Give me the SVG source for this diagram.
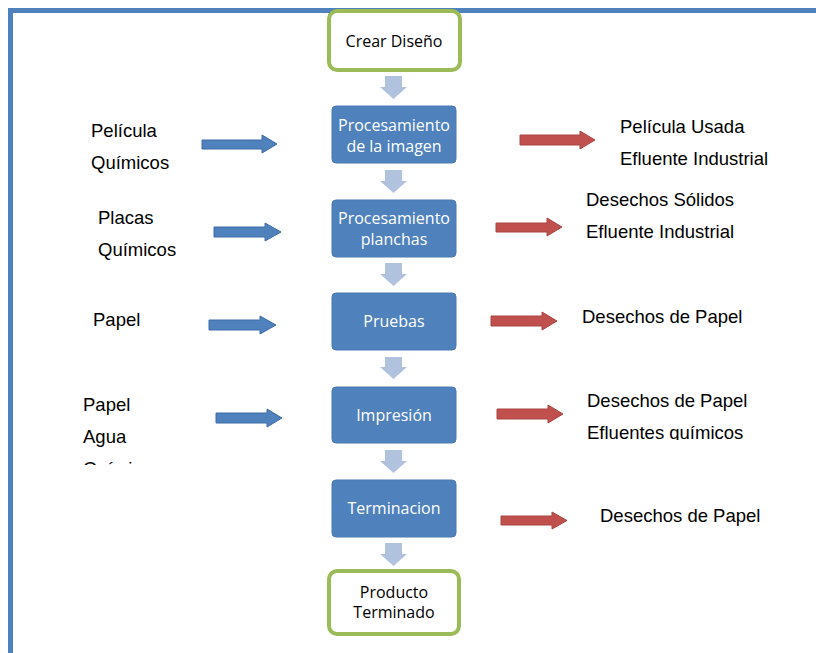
<svg xmlns="http://www.w3.org/2000/svg" width="816" height="653" viewBox="0 0 816 653">
<defs>
<style>
.frame{fill:none;stroke:#4f81bd;stroke-width:5}
.term{fill:#ffffff;stroke:#9bbb59;stroke-width:4}
.proc{fill:#4f81bd;stroke:#4a7ab3;stroke-width:1}
.down{fill:#b1c2de}
.inarr{fill:#4f81bd;stroke:#3d6ca6;stroke-width:1}
.outarr{fill:#c0504d;stroke:#a94541;stroke-width:1}
.nt{font-family:"Open Sans","Noto Sans",sans-serif;font-size:16px;text-anchor:middle}
.w{fill:#ffffff}
.k{fill:#000000}
.lbl{font-family:"Liberation Sans",Arial,sans-serif;font-size:18.5px;fill:#000000}
</style>
<clipPath id="clipL"><rect x="0" y="0" width="300" height="465"/></clipPath>
<clipPath id="clipR"><rect x="560" y="0" width="256" height="440"/></clipPath>
</defs>
<rect x="0" y="0" width="816" height="653" fill="#ffffff"/>
<path class="frame" d="M10.5,653 V10.5 H816"/>

<g id="connectors">
<path class="down" d="M385,76 h17 v11 h5 l-13.5,12 l-13.5,-12 h5 z"/>
<path class="down" d="M385,170 h17 v11 h5 l-13.5,12 l-13.5,-12 h5 z"/>
<path class="down" d="M385,263 h17 v11 h5 l-13.5,12 l-13.5,-12 h5 z"/>
<path class="down" d="M385,357 h17 v10 h5 l-13.5,12 l-13.5,-12 h5 z"/>
<path class="down" d="M385,450 h17 v11 h5 l-13.5,12 l-13.5,-12 h5 z"/>
<path class="down" d="M385,543 h17 v11 h5 l-13.5,12 l-13.5,-12 h5 z"/>

<path class="inarr" d="M202,140 H262 V135 L277,144 L262,153 V149 H202 Z"/>
<path class="inarr" d="M214,227 H265 V223 L281,232 L265,241 V237 H214 Z"/>
<path class="inarr" d="M209,320 H260 V316 L276,325 L260,334 V330 H209 Z"/>
<path class="inarr" d="M216,413 H267 V409 L282,418 L267,427 V423 H216 Z"/>

<path class="outarr" d="M520,135 H580 V131 L595,140 L580,149 V145 H520 Z"/>
<path class="outarr" d="M496,223 H547 V218 L562,227 L547,236 V232 H496 Z"/>
<path class="outarr" d="M491,316 H542 V312 L557,321 L542,330 V326 H491 Z"/>
<path class="outarr" d="M497,409 H548 V405 L563,414 L548,423 V419 H497 Z"/>
<path class="outarr" d="M501,516 H552 V512 L567,520.5 L552,529 V525 H501 Z"/>
</g>

<g id="crear">
<rect class="term" x="329" y="11" width="131" height="59" rx="8"/>
<text class="nt k" x="394" y="47">Crear Diseño</text>
</g>
<g id="proc-imagen">
<rect class="proc" x="332" y="106" width="124" height="57" rx="4"/>
<text class="nt w" x="394" y="131">Procesamiento</text>
<text class="nt w" x="394" y="152">de la imagen</text>
</g>
<g id="proc-planchas">
<rect class="proc" x="332" y="200" width="124" height="57" rx="4"/>
<text class="nt w" x="394" y="224">Procesamiento</text>
<text class="nt w" x="394" y="245">planchas</text>
</g>
<g id="pruebas">
<rect class="proc" x="332" y="293" width="124" height="57" rx="4"/>
<text class="nt w" x="394" y="327">Pruebas</text>
</g>
<g id="impresion">
<rect class="proc" x="332" y="387" width="124" height="56" rx="4"/>
<text class="nt w" x="394" y="421">Impresión</text>
</g>
<g id="terminacion">
<rect class="proc" x="332" y="480" width="124" height="57" rx="4"/>
<text class="nt w" x="394" y="514">Terminacion</text>
</g>
<g id="producto">
<rect class="term" x="329" y="571" width="130" height="63" rx="8"/>
<text class="nt k" x="394" y="598">Producto</text>
<text class="nt k" x="394" y="618">Terminado</text>
</g>

<g id="inputs">
<text class="lbl" x="91" y="137">Película</text>
<text class="lbl" x="91" y="169">Químicos</text>
<text class="lbl" x="98" y="224">Placas</text>
<text class="lbl" x="98" y="256">Químicos</text>
<text class="lbl" x="93" y="326">Papel</text>
<text class="lbl" x="83" y="411">Papel</text>
<text class="lbl" x="83" y="443">Agua</text>
<text class="lbl" x="83" y="475" clip-path="url(#clipL)">Químicos</text>
</g>

<g id="outputs">
<text class="lbl" x="620" y="133">Película Usada</text>
<text class="lbl" x="620" y="165">Efluente Industrial</text>
<text class="lbl" x="586" y="206">Desechos Sólidos</text>
<text class="lbl" x="586" y="238">Efluente Industrial</text>
<text class="lbl" x="582" y="323">Desechos de Papel</text>
<text class="lbl" x="587" y="407">Desechos de Papel</text>
<text class="lbl" x="587" y="439" clip-path="url(#clipR)">Efluentes químicos</text>
<text class="lbl" x="600" y="522">Desechos de Papel</text>
</g>
</svg>
